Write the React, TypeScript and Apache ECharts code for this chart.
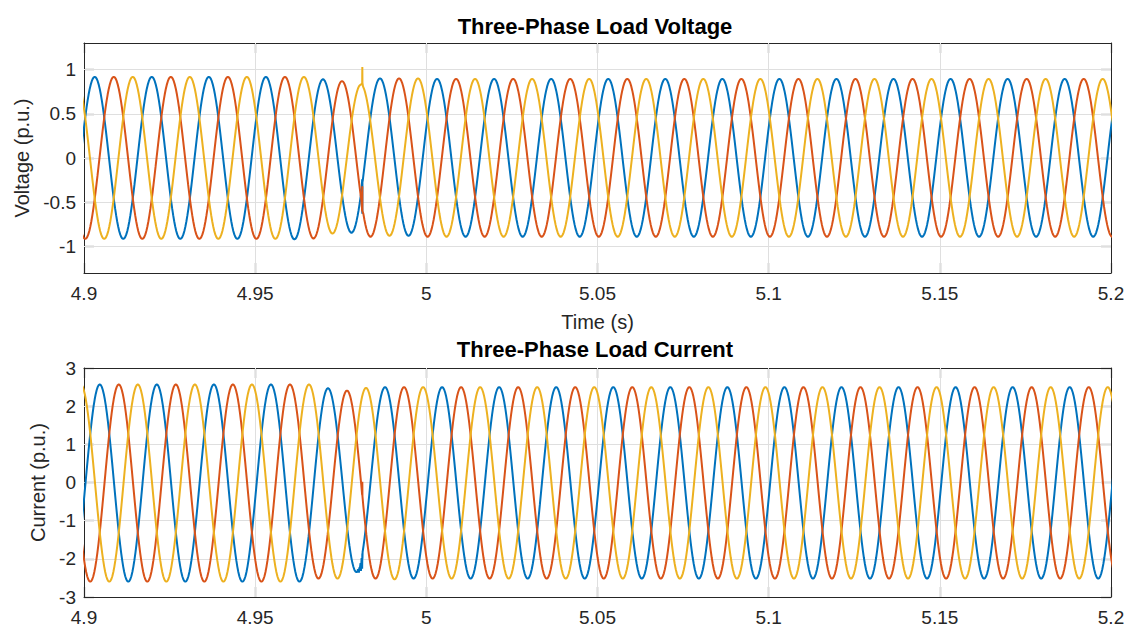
import React, { useEffect, useRef } from "react";
import * as echarts from "echarts";

// ---------------- data ----------------
const T_START = 4.9;
const T_END = 5.2;
const HALF_CYCLE = 1 / 120; // 60 Hz waveform: one extremum every half cycle

const timeTicks = [4.9, 4.95, 5.0, 5.05, 5.1, 5.15, 5.2];
const voltageTicks = [-1, -0.5, 0, 0.5, 1];
const currentTicks = [-3, -2, -1, 0, 1, 2, 3];

const phaseNames = ["Phase A", "Phase B", "Phase C"];
const phaseColors = ["#0072BD", "#D95319", "#EDB120"];

// time of the first listed extremum of each phase
const voltageFirstExtremumTime = [4.8948, 4.89203, 4.89757];
const currentFirstExtremumTime = [4.89627, 4.89349, 4.89905];

// successive peak / trough values (one per half cycle)
const voltageExtremaA = [
  -0.915, 0.917, -0.915, 0.917, -0.915, 0.917, -0.915, 0.917, -0.92,
  0.89, -0.845, 0.9, -0.88,
  0.895, -0.89, 0.895, -0.89, 0.895, -0.89, 0.895, -0.89, 0.895, -0.89,
  0.895, -0.89, 0.895, -0.89, 0.895, -0.89, 0.895, -0.89, 0.895, -0.89,
  0.895, -0.89, 0.895, -0.89, 0.895, -0.89,
];
const voltageExtremaB = [
  0.917, -0.915, 0.917, -0.915, 0.917, -0.915, 0.917, -0.915, 0.917,
  -0.91, 0.87, -0.89, 0.9,
  -0.89, 0.895, -0.89, 0.895, -0.89, 0.895, -0.89, 0.895, -0.89, 0.895,
  -0.89, 0.895, -0.89, 0.895, -0.89, 0.895, -0.89, 0.895, -0.89, 0.895,
  -0.89, 0.895, -0.89, 0.895, -0.89, 0.895,
];
const voltageExtremaC = [
  0.917, -0.915, 0.917, -0.915, 0.917, -0.915, 0.917, -0.915, 0.917,
  -0.855, 0.83, -0.88, 0.9,
  -0.89, 0.895, -0.89, 0.895, -0.89, 0.895, -0.89, 0.895, -0.89, 0.895,
  -0.89, 0.895, -0.89, 0.895, -0.89, 0.895, -0.89, 0.895, -0.89, 0.895,
  -0.89, 0.895, -0.89, 0.895, -0.89, 0.895,
];

const currentExtremaA = [
  -2.6, 2.57, -2.6, 2.57, -2.6, 2.57, -2.6, 2.57, -2.6,
  2.47, -2.35, 2.5, -2.52,
  2.5, -2.52, 2.5, -2.52, 2.5, -2.52, 2.5, -2.52, 2.5, -2.52,
  2.5, -2.52, 2.5, -2.52, 2.5, -2.52, 2.5, -2.52, 2.5, -2.52,
  2.5, -2.52, 2.5, -2.52, 2.5, -2.52,
];
const currentExtremaB = [
  2.57, -2.6, 2.57, -2.6, 2.57, -2.6, 2.57, -2.6, 2.57,
  -2.52, 2.41, -2.52, 2.5,
  -2.52, 2.5, -2.52, 2.5, -2.52, 2.5, -2.52, 2.5, -2.52, 2.5,
  -2.52, 2.5, -2.52, 2.5, -2.52, 2.5, -2.52, 2.5, -2.52, 2.5,
  -2.52, 2.5, -2.52, 2.5, -2.52, 2.5,
];
const currentExtremaC = [
  2.57, -2.6, 2.57, -2.6, 2.57, -2.6, 2.57, -2.6, 2.57,
  -2.52, 2.48, -2.54, 2.5,
  -2.52, 2.5, -2.52, 2.5, -2.52, 2.5, -2.52, 2.5, -2.52, 2.5,
  -2.52, 2.5, -2.52, 2.5, -2.52, 2.5, -2.52, 2.5, -2.52, 2.5,
  -2.52, 2.5, -2.52, 2.5, -2.52, 2.5,
];

// switching transients around t = 4.981 s
const voltageGlitchA = [[4.98126, -0.24], [4.9813, -0.63], [4.98134, -0.27]];
const voltageGlitchB = [[4.98126, -0.6], [4.9813, -0.32], [4.98134, -0.6]];
const voltageGlitchC = [[4.98108, 0.84], [4.98126, 0.85], [4.9813, 1.03], [4.98134, 0.85]];
const currentGlitchA = [
  [4.98, -2.28], [4.9803, -2.36], [4.9806, -2.24], [4.9809, -2.32],
  [4.98125, -2.26], [4.9813, -1.86], [4.98134, -2.0],
];
const currentGlitchB = [[4.98126, -0.33], [4.9813, 0.02], [4.98134, -0.36]];
const currentGlitchC: number[][] = [];

// ---------------- helpers ----------------
function buildWave(t0: number, extrema: number[], glitches: number[][]) {
  const pts: number[][] = [];
  const N = 28;
  for (let k = 0; k < extrema.length - 1; k++) {
    const ta = t0 + k * HALF_CYCLE;
    const va = extrema[k];
    const vb = extrema[k + 1];
    const mid = (va + vb) / 2;
    const half = (va - vb) / 2;
    for (let i = 0; i < N; i++) {
      pts.push([ta + (HALF_CYCLE * i) / N, mid + half * Math.cos((Math.PI * i) / N)]);
    }
  }
  pts.push([t0 + (extrema.length - 1) * HALF_CYCLE, extrema[extrema.length - 1]]);
  const all = pts.concat(glitches.map((g) => [g[0], g[1]]));
  all.sort((a, b) => a[0] - b[0]);
  return all;
}

const FONT = "'Liberation Sans', Arial, Helvetica, sans-serif";
const AXIS_COLOR = "#262626";
const GRID_COLOR = "#dfdfdf";

function fmtTime(v: number) {
  return String(Number(v.toFixed(2)));
}

export default function App() {
  const ref = useRef<HTMLDivElement>(null);

  useEffect(() => {
    if (!ref.current) return;
    const chart = echarts.init(ref.current, undefined, { renderer: "svg" });

    const vData = [
      buildWave(voltageFirstExtremumTime[0], voltageExtremaA, voltageGlitchA),
      buildWave(voltageFirstExtremumTime[1], voltageExtremaB, voltageGlitchB),
      buildWave(voltageFirstExtremumTime[2], voltageExtremaC, voltageGlitchC),
    ];
    const cData = [
      buildWave(currentFirstExtremumTime[0], currentExtremaA, currentGlitchA),
      buildWave(currentFirstExtremumTime[1], currentExtremaB, currentGlitchB),
      buildWave(currentFirstExtremumTime[2], currentExtremaC, currentGlitchC),
    ];

    const tickStyle = { lineStyle: { color: AXIS_COLOR, width: 1.2 } };
    const lineStyle = { show: true, onZero: false, lineStyle: { color: AXIS_COLOR, width: 1 } };
    const labelStyle = { fontSize: 19, color: AXIS_COLOR, fontFamily: FONT };
    const nameStyle = { fontSize: 20, color: AXIS_COLOR, fontFamily: FONT };

    const xAxisFor = (gridIndex: number, withName: boolean) => [
      {
        type: "value",
        gridIndex,
        min: T_START,
        max: T_END,
        position: "bottom",
        axisLine: lineStyle,
        axisTick: { show: true, inside: true, length: 10, customValues: timeTicks, ...tickStyle },
        axisLabel: { ...labelStyle, margin: 11, customValues: timeTicks, formatter: (v: number) => fmtTime(v) },
        splitLine: { show: false },
        name: withName ? "Time (s)" : "",
        nameLocation: "middle",
        nameGap: 39,
        nameTextStyle: { ...nameStyle },
      },
      {
        type: "value",
        gridIndex,
        min: T_START,
        max: T_END,
        position: "top",
        axisLine: lineStyle,
        axisTick: { show: true, inside: true, length: 10, customValues: timeTicks, ...tickStyle },
        axisLabel: { show: false },
        splitLine: { show: false },
      },
    ];

    const yAxisFor = (gridIndex: number, min: number, max: number, ticks: number[], name: string, gap: number) => [
      {
        type: "value",
        gridIndex,
        min,
        max,
        position: "left",
        axisLine: lineStyle,
        axisTick: { show: true, inside: true, length: 10, customValues: ticks, ...tickStyle },
        axisLabel: { ...labelStyle, margin: 8, customValues: ticks },
        splitLine: { show: false },
        name,
        nameLocation: "middle",
        nameGap: gap,
        nameRotate: 90,
        nameTextStyle: { ...nameStyle },
      },
      {
        type: "value",
        gridIndex,
        min,
        max,
        position: "right",
        axisLine: lineStyle,
        axisTick: { show: true, inside: true, length: 10, customValues: ticks, ...tickStyle },
        axisLabel: { show: false },
        splitLine: { show: false },
      },
    ];

    const gridSeries = (xi: number, yi: number, yTicks: number[]) => ({
      type: "line",
      xAxisIndex: xi,
      yAxisIndex: yi,
      data: [],
      silent: true,
      markLine: {
        z: 1,
        silent: true,
        symbol: ["none", "none"],
        label: { show: false },
        emphasis: { disabled: true },
        lineStyle: { color: GRID_COLOR, width: 1, type: "solid" },
        data: [
          ...yTicks.map((v) => ({ yAxis: v })),
          ...timeTicks.slice(1, -1).map((t) => ({ xAxis: t })),
        ],
      },
    });

    const waveSeries = (data: number[][][], xi: number, yi: number) =>
      data.map((d, i) => ({
        name: phaseNames[i],
        type: "line",
        xAxisIndex: xi,
        yAxisIndex: yi,
        data: d,
        showSymbol: false,
        symbol: "none",
        clip: true,
        silent: true,
        z: 2,
        lineStyle: { color: phaseColors[i], width: 2 },
        itemStyle: { color: phaseColors[i] },
        emphasis: { disabled: true },
      }));

    chart.setOption({
      animation: false,
      backgroundColor: "#ffffff",
      title: [
        {
          text: "Three-Phase Load Voltage",
          left: 590,
          top: 10,
          textAlign: "center",
          textStyle: { fontSize: 22, fontWeight: "bold", color: "#000", fontFamily: FONT },
        },
        {
          text: "Three-Phase Load Current",
          left: 590,
          top: 333,
          textAlign: "center",
          textStyle: { fontSize: 22, fontWeight: "bold", color: "#000", fontFamily: FONT },
        },
      ],
      grid: [
        { left: 84, right: 24, top: 43, height: 230, containLabel: false },
        { left: 84, right: 24, top: 368, height: 229, containLabel: false },
      ],
      xAxis: [...xAxisFor(0, true), ...xAxisFor(1, false)],
      yAxis: [
        ...yAxisFor(0, -1.3, 1.3, voltageTicks, "Voltage (p.u.)", 50),
        ...yAxisFor(1, -3, 3, currentTicks, "Current (p.u.)", 34),
      ],
      series: [
        gridSeries(0, 0, voltageTicks),
        ...waveSeries(vData, 0, 0),
        gridSeries(2, 2, currentTicks.slice(1, -1)),
        ...waveSeries(cData, 2, 2),
      ],
    });

    return () => chart.dispose();
  }, []);

  return (
    <div
      ref={ref}
      style={{ position: "fixed", left: 0, top: 0, width: 1135, height: 628, background: "#fff" }}
    />
  );
}
